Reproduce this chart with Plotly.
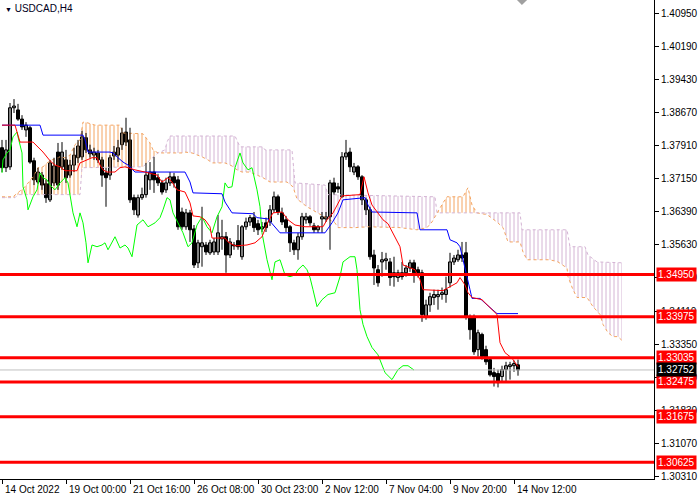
import plotly.graph_objects as go

# USDCAD H4 bars (oldest first)
opens = [1.3787, 1.3741, 1.3743, 1.3879, 1.3874, 1.3853, 1.3828, 1.3833, 1.3757, 1.3708,
         1.3724, 1.3704, 1.3667, 1.3706, 1.3777, 1.3743, 1.3759, 1.3724, 1.3747, 1.3764,
         1.3766, 1.3810, 1.3782, 1.3770, 1.3775, 1.3759, 1.3729, 1.3724, 1.3768, 1.3770,
         1.3794, 1.3823, 1.3805, 1.3672, 1.3632, 1.3672, 1.3679, 1.3713, 1.3731, 1.3718,
         1.3706, 1.3690, 1.3706, 1.3720, 1.3713, 1.3639, 1.3605, 1.3637, 1.3600, 1.3522,
         1.3559, 1.3563, 1.3545, 1.3547, 1.3547, 1.3577, 1.3582, 1.3540, 1.3563, 1.3573,
         1.3536, 1.3605, 1.3616, 1.3626, 1.3612, 1.3600, 1.3614, 1.3616, 1.3644, 1.3674,
         1.3637, 1.3621, 1.3605, 1.3568, 1.3552, 1.3582, 1.3621, 1.3628, 1.3607, 1.3598,
         1.3623, 1.3623, 1.3628, 1.3706, 1.3697, 1.3674, 1.3766, 1.3777, 1.3731, 1.3743,
         1.3720, 1.3667, 1.3644, 1.3540, 1.3506, 1.3524, 1.3527, 1.3524, 1.3499, 1.3488,
         1.3499, 1.3499, 1.3510, 1.3522, 1.3506, 1.3499, 1.3398, 1.3425, 1.3442, 1.3444,
         1.3449, 1.3449, 1.3476, 1.3524, 1.3529, 1.3540, 1.3545, 1.3398, 1.3398, 1.3322,
         1.3357, 1.3322, 1.3299, 1.3269, 1.3267, 1.3260, 1.3276, 1.3283, 1.3285, 1.3287]
highs = [1.3805, 1.3805, 1.3890, 1.3899, 1.3888, 1.3862, 1.3846, 1.3837, 1.3764, 1.3741,
         1.3731, 1.3713, 1.3759, 1.3764, 1.3798, 1.3800, 1.3782, 1.3759, 1.3787, 1.3805,
         1.3826, 1.3821, 1.3794, 1.3787, 1.3782, 1.3766, 1.3741, 1.3770, 1.3791, 1.3805,
         1.3833, 1.3856, 1.3833, 1.3679, 1.3679, 1.3695, 1.3752, 1.3754, 1.3766, 1.3727,
         1.3713, 1.3718, 1.3731, 1.3729, 1.3722, 1.3649, 1.3646, 1.3644, 1.3609, 1.3575,
         1.3651, 1.3570, 1.3575, 1.3579, 1.3632, 1.3621, 1.3593, 1.3579, 1.3570, 1.3609,
         1.3609, 1.3626, 1.3632, 1.3639, 1.3621, 1.3616, 1.3626, 1.3655, 1.3686, 1.3679,
         1.3649, 1.3630, 1.3609, 1.3575, 1.3591, 1.3637, 1.3637, 1.3632, 1.3614, 1.3609,
         1.3639, 1.3639, 1.3713, 1.3718, 1.3706, 1.3777, 1.3805, 1.3787, 1.3752, 1.3747,
         1.3724, 1.3672, 1.3651, 1.3552, 1.3517, 1.3547, 1.3545, 1.3533, 1.3536, 1.3506,
         1.3524, 1.3517, 1.3529, 1.3529, 1.3513, 1.3506, 1.3437, 1.3453, 1.3460, 1.3460,
         1.3465, 1.3490, 1.3545, 1.3540, 1.3552, 1.3570, 1.3570, 1.3403, 1.3403, 1.3368,
         1.3361, 1.3331, 1.3303, 1.3280, 1.3276, 1.3285, 1.3294, 1.3294, 1.3297, 1.3299]
lows = [1.3731, 1.3731, 1.3736, 1.3867, 1.3849, 1.3828, 1.3812, 1.3750, 1.3701, 1.3704,
        1.3690, 1.3660, 1.3662, 1.3699, 1.3690, 1.3736, 1.3706, 1.3718, 1.3731, 1.3752,
        1.3759, 1.3775, 1.3764, 1.3759, 1.3752, 1.3697, 1.3651, 1.3713, 1.3759, 1.3754,
        1.3782, 1.3791, 1.3660, 1.3632, 1.3626, 1.3667, 1.3672, 1.3690, 1.3683, 1.3699,
        1.3679, 1.3683, 1.3699, 1.3695, 1.3598, 1.3598, 1.3598, 1.3570, 1.3510, 1.3510,
        1.3513, 1.3540, 1.3540, 1.3540, 1.3540, 1.3552, 1.3499, 1.3533, 1.3552, 1.3552,
        1.3529, 1.3598, 1.3607, 1.3593, 1.3586, 1.3593, 1.3593, 1.3607, 1.3637, 1.3632,
        1.3609, 1.3593, 1.3547, 1.3540, 1.3529, 1.3575, 1.3612, 1.3607, 1.3591, 1.3591,
        1.3591, 1.3616, 1.3552, 1.3679, 1.3683, 1.3672, 1.3759, 1.3731, 1.3724, 1.3713,
        1.3655, 1.3632, 1.3529, 1.3471, 1.3467, 1.3490, 1.3506, 1.3469, 1.3467, 1.3478,
        1.3483, 1.3490, 1.3501, 1.3476, 1.3488, 1.3386, 1.3391, 1.3409, 1.3425, 1.3414,
        1.3437, 1.3430, 1.3465, 1.3517, 1.3524, 1.3524, 1.3391, 1.3345, 1.3310, 1.3306,
        1.3299, 1.3287, 1.3260, 1.3237, 1.3235, 1.3246, 1.3248, 1.3253, 1.3271, 1.3262]
closes = [1.3741, 1.3782, 1.3879, 1.3883, 1.3853, 1.3835, 1.3839, 1.3754, 1.3713, 1.3731,
          1.3701, 1.3672, 1.3752, 1.3745, 1.3701, 1.3777, 1.3718, 1.3747, 1.3770, 1.3791,
          1.3812, 1.3782, 1.3773, 1.3777, 1.3759, 1.3724, 1.3718, 1.3764, 1.3777, 1.3787,
          1.3821, 1.3800, 1.3667, 1.3644, 1.3672, 1.3679, 1.3724, 1.3731, 1.3713, 1.3706,
          1.3685, 1.3706, 1.3720, 1.3706, 1.3605, 1.3605, 1.3637, 1.3598, 1.3517, 1.3568,
          1.3568, 1.3547, 1.3568, 1.3570, 1.3591, 1.3582, 1.3540, 1.3570, 1.3561, 1.3559,
          1.3605, 1.3616, 1.3626, 1.3603, 1.3598, 1.3605, 1.3603, 1.3644, 1.3674, 1.3639,
          1.3616, 1.3603, 1.3568, 1.3552, 1.3582, 1.3628, 1.3628, 1.3614, 1.3598, 1.3605,
          1.3628, 1.3628, 1.3706, 1.3685, 1.3692, 1.3766, 1.3775, 1.3743, 1.3743, 1.3720,
          1.3667, 1.3644, 1.3536, 1.3510, 1.3476, 1.3529, 1.3531, 1.3488, 1.3490, 1.3499,
          1.3490, 1.3510, 1.3522, 1.3499, 1.3494, 1.3403, 1.3425, 1.3444, 1.3449, 1.3449,
          1.3453, 1.3460, 1.3524, 1.3533, 1.3540, 1.3533, 1.3398, 1.3368, 1.3317, 1.3361,
          1.3306, 1.3294, 1.3264, 1.3260, 1.3246, 1.3276, 1.3285, 1.3287, 1.3290, 1.32752]
bar_idx = list(range(len(closes)))

# Ichimoku lines, as (bar index, price) points
tenkan_idx = [0, 3.25, 4.5, 7.75, 10.25, 12, 13.25, 14.5, 15.75, 18.75, 19.5, 21.25, 22.5, 23.75,
              24.5, 25.25, 26.25, 28.25, 29.5, 30.75, 33.25, 35.75, 38.75, 40, 41.5, 42.5, 43.75,
              45.75, 47, 47.75, 49.5, 50.75, 52, 52.5, 55.75, 56.5, 58.25, 61.25, 63.25, 65, 66.5,
              67.75, 70, 71.5, 73.25, 75.75, 80.25, 81.25, 82.75, 85, 89.5, 90.5, 91.5, 92.5, 93.75,
              95.25, 96.5, 97.75, 99.5, 100.25, 103.25, 104.5, 105.25, 110.25, 112, 113.75, 114.5,
              115.75, 116.5, 117.5, 120, 121.25, 122.5, 123.75, 124.5, 125.75, 127, 127.75, 129]
tenkan_val = [1.3839, 1.3839, 1.3800, 1.3800, 1.3777, 1.3757, 1.3747, 1.3743, 1.3734, 1.3734,
              1.3752, 1.3759, 1.3764, 1.3764, 1.3747, 1.3736, 1.3731, 1.3731, 1.3741, 1.3743,
              1.3736, 1.3731, 1.3724, 1.3708, 1.3718, 1.3708, 1.3690, 1.3685, 1.3660, 1.3630,
              1.3628, 1.3621, 1.3605, 1.3579, 1.3579, 1.3570, 1.3561, 1.3563, 1.3568, 1.3582,
              1.3616, 1.3637, 1.3639, 1.3621, 1.3609, 1.3605, 1.3605, 1.3621, 1.3637, 1.3676,
              1.3679, 1.3720, 1.3683, 1.3655, 1.3639, 1.3621, 1.3612, 1.3591, 1.3559, 1.3517,
              1.3506, 1.3483, 1.3460, 1.3458, 1.3467, 1.3476, 1.3488, 1.3471, 1.3453, 1.3442,
              1.3437, 1.3425, 1.3414, 1.3403, 1.3338, 1.3315, 1.3306, 1.3299, 1.3283]
kijun_idx = [0, 9.5, 10.25, 20.25, 20.75, 21.5, 27, 27.75, 29, 30.25, 31.5, 33.25, 45.75, 47,
             47.75, 55, 55.75, 57.5, 62.75, 63.75, 66.5, 67.75, 69.5, 80.75, 82.5, 84, 85.25,
             90.75, 91.5, 92.5, 103.75, 104.5, 111.25, 112, 113.75, 114.5, 115.75, 117, 117.5,
             119.5, 121.25, 123.25, 123.75, 129]
kijun_val = [1.3839, 1.3839, 1.3816, 1.3816, 1.3805, 1.3777, 1.3777, 1.3775, 1.3764, 1.3754,
             1.3747, 1.3731, 1.3731, 1.3708, 1.3683, 1.3681, 1.3662, 1.3637, 1.3635, 1.3626,
             1.3623, 1.3609, 1.3591, 1.3591, 1.3614, 1.3637, 1.3667, 1.3672, 1.3655, 1.3639,
             1.3637, 1.3598, 1.3598, 1.3575, 1.3568, 1.3559, 1.3513, 1.3460, 1.3440, 1.3440,
             1.3425, 1.3409, 1.3405, 1.3405]
chikou_idx = [0, 0.25, 1.25, 2, 2.75, 3.75, 4, 5, 5.25, 6.25, 6.5, 7.75, 8.75, 9.5, 10.25, 11.25,
              12, 13.25, 14.5, 15.75, 16.5, 17, 17.75, 18.75, 19.5, 20.25, 21, 21.5, 22.5, 23.75,
              25, 25.75, 26.5, 28.25, 29.5, 30.75, 31.5, 32.5, 33.75, 35.25, 36.5, 38.25, 39.5,
              40.25, 41.25, 42, 42.75, 44, 45.25, 46.5, 47.5, 48.75, 50, 51.25, 52.5, 53.75, 55,
              55.75, 56.5, 57.5, 58.25, 59.5, 60.25, 61.5, 62.5, 63.75, 64.5, 65, 66.25, 67.5,
              68.25, 69.5, 70.75, 72, 73.25, 74, 75.25, 76.25, 77, 77.75, 78.75, 80, 81.5, 83.25,
              84.5, 85.25, 87, 88.25, 88.75, 89.5, 90.25, 91.25, 92.5, 94, 95.75, 97.5, 99,
              100.25, 101.5, 103]
chikou_val = [1.3729, 1.3759, 1.3775, 1.3782, 1.3812, 1.3823, 1.3812, 1.3775, 1.3697, 1.3667,
              1.3644, 1.3674, 1.3690, 1.3729, 1.3718, 1.3713, 1.3701, 1.3690, 1.3706, 1.3718,
              1.3706, 1.3674, 1.3637, 1.3605, 1.3637, 1.3614, 1.3568, 1.3522, 1.3563, 1.3559,
              1.3563, 1.3568, 1.3552, 1.3582, 1.3556, 1.3563, 1.3556, 1.3536, 1.3609, 1.3621,
              1.3605, 1.3614, 1.3626, 1.3644, 1.3672, 1.3667, 1.3637, 1.3614, 1.3591, 1.3559,
              1.3568, 1.3609, 1.3628, 1.3605, 1.3591, 1.3628, 1.3651, 1.3706, 1.3695, 1.3697,
              1.3741, 1.3775, 1.3752, 1.3736, 1.3741, 1.3690, 1.3651, 1.3591, 1.3529, 1.3483,
              1.3524, 1.3529, 1.3494, 1.3490, 1.3494, 1.3506, 1.3517, 1.3506, 1.3488, 1.3460,
              1.3421, 1.3437, 1.3449, 1.3453, 1.3490, 1.3524, 1.3536, 1.3536, 1.3506, 1.3414,
              1.3380, 1.3352, 1.3327, 1.3310, 1.3269, 1.3253, 1.3276, 1.3285, 1.3285, 1.3275]
span_a_idx = [0, 2.75, 5.75, 7.75, 9, 10.25, 11.25, 12.5, 14.5, 15.75, 17, 18.25, 19.5, 20.25,
              21.5, 23.25, 29.5, 30.25, 35.25, 37, 37.75, 39, 40, 45, 45.75, 47.5, 50, 51.5, 52.5,
              55.75, 57.5, 58.75, 60, 62, 63.75, 65.25, 67, 71.25, 72.75, 73.75, 76.25, 79, 81.25,
              83.25, 84, 88.25, 91.5, 99.5, 103.75, 106.25, 107.5, 108.75, 110.25, 111.25, 115.25,
              116.5, 117.5, 118.75, 121.25, 123.75, 125.25, 126.5, 129.5, 130.25, 131.25, 137,
              139, 141.25, 141.5, 142.75, 143.75, 146.25, 147.75, 149.5, 150.25, 151.5, 152.75,
              154, 155]
span_a_val = [1.3674, 1.3674, 1.3697, 1.3720, 1.3741, 1.3743, 1.3752, 1.3759, 1.3766, 1.3764,
              1.3770, 1.3794, 1.3805, 1.3846, 1.3844, 1.3839, 1.3839, 1.3821, 1.3819, 1.3798,
              1.3782, 1.3775, 1.3775, 1.3775, 1.3777, 1.3775, 1.3766, 1.3759, 1.3752, 1.3752,
              1.3745, 1.3736, 1.3731, 1.3731, 1.3724, 1.3718, 1.3708, 1.3708, 1.3697, 1.3669,
              1.3651, 1.3637, 1.3626, 1.3614, 1.3603, 1.3603, 1.3605, 1.3603, 1.3598, 1.3603,
              1.3616, 1.3637, 1.3660, 1.3674, 1.3674, 1.3695, 1.3655, 1.3637, 1.3633, 1.3616,
              1.3603, 1.3570, 1.3570, 1.3547, 1.3529, 1.3529, 1.3524, 1.3510, 1.3490, 1.3460,
              1.3442, 1.3442, 1.3421, 1.3403, 1.3380, 1.3361, 1.3352, 1.3352, 1.3343]
span_b_idx = [0, 3.25, 4, 19.5, 20, 35.25, 37, 39, 40.75, 41.25, 42, 58.25, 59.5, 65.25, 65.75,
              72.5, 73.25, 80.75, 81.5, 108.25, 108.75, 118.75, 129.5, 130, 141.25, 142, 145.75,
              146.5, 148.75, 155]
span_b_val = [1.3672, 1.3672, 1.3679, 1.3679, 1.3741, 1.3743, 1.3759, 1.3775, 1.3782, 1.3800,
              1.3814, 1.3814, 1.3789, 1.3789, 1.3782, 1.3782, 1.3706, 1.3701, 1.3679, 1.3674,
              1.3637, 1.3637, 1.3637, 1.3598, 1.3598, 1.3559, 1.3559, 1.3540, 1.3524, 1.3522]
# cloud pieces between the span crossings, and which span is on top
kumo_breaks = [0, 39, 108.75, 118.75, 155]
kumo_colors = ["#F4A460", "#D4B4D4", "#F4A460", "#D4B4D4"]

levels = [1.34950, 1.33975, 1.33035, 1.32475, 1.31675, 1.30625]
last_price = 1.32752
price_ticks = [1.40950, 1.40190, 1.39430, 1.38670, 1.37910, 1.37150, 1.36390, 1.35630,
               1.34870, 1.34110, 1.33350, 1.32590, 1.31830, 1.31070, 1.30310]
time_ticks = [0, 16, 32, 48, 64, 80, 96, 112, 128]
time_labels = ["14 Oct 2022", "19 Oct 00:00", "21 Oct 16:00", "26 Oct 08:00", "30 Oct 23:00",
               "2 Nov 12:00", "7 Nov 04:00", "9 Nov 20:00", "14 Nov 12:00"]

FONT = "Liberation Sans"

fig = go.Figure()

# kumo hatch
for k in range(len(kumo_colors)):
    lo, hi = kumo_breaks[k], kumo_breaks[k + 1]
    a = [(i, v) for i, v in zip(span_a_idx, span_a_val) if lo <= i <= hi]
    b = [(i, v) for i, v in zip(span_b_idx, span_b_val) if lo <= i <= hi]
    xs = [p[0] for p in a] + [p[0] for p in b[::-1]]
    ys = [p[1] for p in a] + [p[1] for p in b[::-1]]
    fig.add_trace(go.Scatter(x=xs, y=ys, mode="lines", fill="toself",
                             fillcolor="rgba(0,0,0,0)", line=dict(width=0),
                             fillpattern=dict(shape="|", size=4, solidity=0.25,
                                              fgcolor=kumo_colors[k], fgopacity=1),
                             hoverinfo="skip", showlegend=False))

fig.add_trace(go.Scatter(x=span_a_idx, y=span_a_val, mode="lines",
                         line=dict(color="#F4A460", width=1, dash="dot"), showlegend=False))
fig.add_trace(go.Scatter(x=span_b_idx, y=span_b_val, mode="lines",
                         line=dict(color="#D4B4D4", width=1, dash="dot"), showlegend=False))

# candles: wicks as one broken line, bodies as floating bars
wick_x, wick_y = [], []
for i, h, l in zip(bar_idx, highs, lows):
    wick_x += [i, i, None]
    wick_y += [l, h, None]
fig.add_trace(go.Scatter(x=wick_x, y=wick_y, mode="lines",
                         line=dict(color="black", width=1), hoverinfo="skip", showlegend=False))
body_base = [min(o, c) for o, c in zip(opens, closes)]
body_len = [abs(c - o) for o, c in zip(opens, closes)]
body_fill = ["white" if c > o else "black" for o, c in zip(opens, closes)]
fig.add_trace(go.Bar(x=bar_idx, y=body_len, base=body_base, width=0.75,
                     marker=dict(color=body_fill, line=dict(color="black", width=1)),
                     hoverinfo="skip", showlegend=False))

fig.add_trace(go.Scatter(x=chikou_idx, y=chikou_val, mode="lines",
                         line=dict(color="#00FF00", width=1), showlegend=False))
fig.add_trace(go.Scatter(x=kijun_idx, y=kijun_val, mode="lines",
                         line=dict(color="#0000FF", width=1), showlegend=False))
fig.add_trace(go.Scatter(x=tenkan_idx, y=tenkan_val, mode="lines",
                         line=dict(color="#FF0000", width=1), showlegend=False))

shapes = [dict(type="line", xref="paper", x0=0, x1=1, y0=last_price, y1=last_price,
               line=dict(color="#C0C0C0", width=1), layer="above")]
for lv in levels:
    shapes.append(dict(type="line", xref="paper", x0=0, x1=1, y0=lv, y1=lv,
                       line=dict(color="#FF0000", width=3), layer="above"))
# chart shift marker at the top
shapes.append(dict(type="path", xref="paper", yref="paper",
                   path="M 0.7905 1 L 0.806 1 L 0.798 0.9895 Z",
                   fillcolor="#A0A0A0", line=dict(width=0)))

annotations = []
for lv in levels:
    annotations.append(dict(xref="paper", x=1, y=lv, xanchor="left", xshift=2,
                            text=f"{lv:.5f}", showarrow=False, bgcolor="#FF0000",
                            borderpad=1, font=dict(family=FONT, size=10, color="white")))
annotations.append(dict(xref="paper", x=1, y=last_price, xanchor="left", xshift=2,
                        text=f"{last_price:.5f}", showarrow=False, bgcolor="black",
                        borderpad=1, font=dict(family=FONT, size=10, color="white")))
for t, lab in zip(time_ticks, time_labels):
    annotations.append(dict(x=t, yref="paper", y=0, xanchor="left", yanchor="top",
                            xshift=1, yshift=-3, text=lab, showarrow=False,
                            font=dict(family=FONT, size=10, color="black")))
annotations.append(dict(xref="paper", yref="paper", x=0, y=1, xanchor="left", yanchor="top",
                        xshift=3, yshift=-1, showarrow=False,
                        text="<span style='font-size:7px'>▼</span> USDCAD,H4",
                        font=dict(family=FONT, size=10, color="#000020")))

fig.update_layout(
    width=700, height=500, autosize=False,
    margin=dict(l=0, r=46, t=0, b=21, pad=0),
    paper_bgcolor="white", plot_bgcolor="white", barmode="overlay",
    showlegend=False, shapes=shapes, annotations=annotations,
    xaxis=dict(range=[-0.5, 163], showgrid=False, zeroline=False,
               tickvals=time_ticks, showticklabels=False, ticks="outside", ticklen=4,
               tickcolor="black", showline=True, linecolor="black", linewidth=1,
               fixedrange=True),
    yaxis=dict(side="right", range=[1.30241, 1.41272], showgrid=False, zeroline=False,
               tickvals=price_ticks, ticktext=[f"{p:.5f}" for p in price_ticks],
               ticks="outside", ticklen=4, tickcolor="black", showline=True,
               linecolor="black", linewidth=1, tickfont=dict(family=FONT, size=10, color="black"),
               fixedrange=True),
)

# page body has a default margin; drop it so the 700x500 figure fills the window
fig.write_html("out.html", config={"displayModeBar": False},
               post_script="document.body.style.margin='0';")
